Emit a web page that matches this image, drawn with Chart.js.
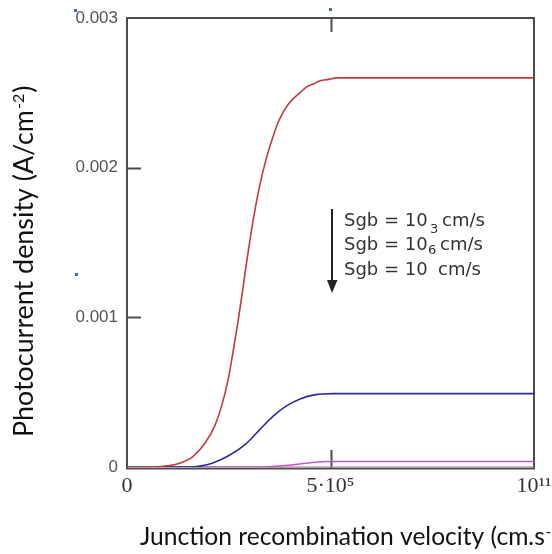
<!DOCTYPE html>
<html><head><meta charset="utf-8">
<script src="https://cdn.jsdelivr.net/npm/chart.js@4.4.1/dist/chart.umd.min.js"></script>
<style>html,body{margin:0;padding:0;background:#fff;}canvas{display:block;}</style>
</head><body>
<canvas id="c" width="552" height="554"></canvas>
<script>
// x values: log10 position of junction recombination velocity on the axis (0..11)
const redX = [0, 0.6, 0.9, 1.35, 1.78, 2.11, 2.38, 2.57, 2.73, 2.86, 3.00, 3.12, 3.24, 3.35, 3.46, 3.57, 3.68, 3.81, 3.95, 4.08, 4.22, 4.35, 4.49, 4.67, 4.86, 5.05, 5.22, 5.45, 5.68, 11];
const redY = [0, 0, 0.000003, 0.00002, 0.00007, 0.00016, 0.00028, 0.00042, 0.00058, 0.00076, 0.00097, 0.00117, 0.00138, 0.00156, 0.00172, 0.00186, 0.00198, 0.0021, 0.00221, 0.0023, 0.00237, 0.00242, 0.00246, 0.0025, 0.00254, 0.00256, 0.00258, 0.00259, 0.0026, 0.0026];
const blueX = [0, 1.70, 1.97, 2.32, 2.78, 3.24, 3.59, 3.95, 4.32, 4.68, 5.03, 5.57, 11];
const blueY = [0, 0, 0.000006, 0.000027, 0.00008, 0.00016, 0.00025, 0.00034, 0.00041, 0.000455, 0.00048, 0.00049, 0.00049];
const magentaX = [0, 3.54, 4.2, 4.6, 5.0, 5.5, 11];
const magentaY = [0, 0, 0.000008, 0.000018, 0.00003, 0.000037, 0.000037];
const baseX = [0, 11];
const baseY = [0, 0];

const xTickValues = [0, 5.5, 11];
const xTickLabels = ['0', '5·10⁵', '10¹¹'];
const yTickValues = [0, 0.001, 0.002, 0.003];
const yTickLabels = ['0', '0.001', '0.002', '0.003'];
const innerYTicks = [0.001, 0.002];
const innerXTicks = [5.5];

const legendLines = ['Sgb = 10', 'Sgb = 10', 'Sgb = 10'];
const legendUnit = 'cm/s';
const legendExps = ['3', '6'];

const xTitle = 'Junction recombination velocity (cm.s';
const xTitleSup = '-1';
const yTitle = 'Photocurrent density (A/cm';
const yTitleSup = '-2';

function pts(xs, ys) { return xs.map((x, i) => ({x: x, y: ys[i]})); }

function fitFont(ctx, text, family, target) {
  ctx.font = '20px ' + family;
  const w = ctx.measureText(text).width;
  return 20 * target / w;
}

const frame = {
  id: 'frame',
  beforeDatasetsDraw(chart) {
    const ctx = chart.ctx;
    const a = chart.chartArea;
    const xs = chart.scales.x, ys = chart.scales.y;
    ctx.save();
    ctx.strokeStyle = '#4d4d4d';
    ctx.lineWidth = 2;
    ctx.beginPath();
    ctx.moveTo(a.left, a.bottom + 1.5);
    ctx.lineTo(a.left, a.top);
    ctx.lineTo(a.right, a.top);
    ctx.lineTo(a.right, a.bottom + 1.5);
    ctx.moveTo(a.left - 1, a.bottom + 1.5);
    ctx.lineTo(a.right + 1, a.bottom + 1.5);
    ctx.stroke();
    ctx.beginPath();
    innerYTicks.forEach(v => {
      const y = Math.round(ys.getPixelForValue(v)) + 0.5;
      ctx.moveTo(a.left, y); ctx.lineTo(a.left + 14, y);
    });
    innerXTicks.forEach(v => {
      const x = Math.round(xs.getPixelForValue(v)) + 0.5;
      ctx.moveTo(x, a.top); ctx.lineTo(x, a.top + 14);
      ctx.moveTo(x, a.bottom + 1); ctx.lineTo(x, a.bottom - 17);
    });
    ctx.stroke();
    ctx.restore();
  }
};

const decor = {
  id: 'decor',
  afterDraw(chart) {
    const ctx = chart.ctx;
    ctx.save();
    // legend text
    ctx.fillStyle = '#333';
    ctx.textBaseline = 'middle';
    ctx.font = '18px "DejaVu Sans"';
    const ly = [221, 245, 270];
    const ux = [442, 440, 438];
    legendLines.forEach((t, i) => {
      ctx.fillText(t, 344, ly[i]);
      ctx.fillText(legendUnit, ux[i], ly[i]);
    });
    ctx.font = '13px "DejaVu Sans"';
    ctx.fillText(legendExps[0], 430, 230);
    ctx.fillText(legendExps[1], 428, 251);

    // arrow
    ctx.strokeStyle = '#222';
    ctx.fillStyle = '#222';
    ctx.lineWidth = 2;
    ctx.beginPath(); ctx.moveTo(332, 209); ctx.lineTo(332, 283); ctx.stroke();
    ctx.beginPath(); ctx.moveTo(327, 280); ctx.lineTo(337.5, 280); ctx.lineTo(332, 293); ctx.closePath(); ctx.fill();

    // titles
    ctx.fillStyle = '#111';
    ctx.textBaseline = 'alphabetic';
    const fam = '"Lato", "Open Sans", sans-serif';
    let fs = fitFont(ctx, xTitle, fam, 405);
    ctx.font = fs + 'px ' + fam;
    ctx.fillText(xTitle, 140, 545);
    const xw = ctx.measureText(xTitle).width;
    ctx.font = (fs * 0.6) + 'px ' + fam;
    ctx.fillText(xTitleSup, 140 + xw + 1, 537);

    ctx.save();
    ctx.translate(33, 437);
    ctx.rotate(-Math.PI / 2);
    fs = fitFont(ctx, yTitle, fam, 327);
    ctx.font = fs + 'px ' + fam;
    ctx.fillText(yTitle, 0, 0);
    const yw = ctx.measureText(yTitle).width;
    ctx.font = (fs * 0.6) + 'px ' + fam;
    ctx.fillText(yTitleSup, yw + 1, -9);
    const sw = ctx.measureText(yTitleSup).width;
    ctx.font = fs + 'px ' + fam;
    ctx.fillText(')', yw + sw + 2, 0);
    ctx.restore();

    // stray dots
    ctx.fillStyle = '#4a6a9a';
    ctx.fillRect(329, 8, 3, 3);
    ctx.fillRect(74, 9, 3, 3);
    ctx.fillRect(75, 273, 3, 3);
    ctx.restore();
  }
};

const common = {fill: false, pointRadius: 0, borderWidth: 1.6, cubicInterpolationMode: 'monotone'};

new Chart(document.getElementById('c'), {
  type: 'line',
  data: {
    datasets: [
      Object.assign({label: 'Sgb = 10 cm/s', data: pts(redX, redY), borderColor: '#c03a3e'}, common),
      Object.assign({label: 'Sgb = 10^3 cm/s', data: pts(blueX, blueY), borderColor: '#2b2b9c'}, common),
      Object.assign({label: 'Sgb = 10^6 cm/s', data: pts(magentaX, magentaY), borderColor: '#c058c8'}, common),
      Object.assign({label: 'baseline', data: pts(baseX, baseY), borderColor: '#d98ad9'}, common)
    ]
  },
  options: {
    responsive: false,
    animation: false,
    devicePixelRatio: 1,
    layout: {padding: {top: 18, right: 18, left: 0, bottom: 0}},
    plugins: {legend: {display: false}, tooltip: {enabled: false}},
    scales: {
      x: {
        type: 'linear', min: 0, max: 11,
        grid: {display: false, drawTicks: false},
        border: {display: false},
        afterBuildTicks: s => { s.ticks = xTickValues.map(v => ({value: v})); },
        afterFit: s => { s.height = 87; s.paddingLeft = 0; s.paddingRight = 0; },
        ticks: {
          autoSkip: false, maxRotation: 0, padding: 6, color: '#333',
          font: {family: '"Liberation Serif", serif', size: 22},
          callback: v => { const i = xTickValues.indexOf(v); return i >= 0 ? xTickLabels[i] : ''; }
        }
      },
      y: {
        type: 'linear', min: 0, max: 0.003,
        grid: {display: false, drawTicks: false},
        border: {display: false},
        afterBuildTicks: s => { s.ticks = yTickValues.map(v => ({value: v})); },
        afterFit: s => { s.width = 127; s.paddingTop = 0; s.paddingBottom = 0; },
        ticks: {
          autoSkip: false, padding: 9, color: '#555',
          font: {family: '"Liberation Sans", Arial, sans-serif', size: 17},
          callback: v => { const i = yTickValues.indexOf(v); return i >= 0 ? yTickLabels[i] : ''; }
        }
      }
    }
  },
  plugins: [frame, decor]
});
</script>
</body></html>
